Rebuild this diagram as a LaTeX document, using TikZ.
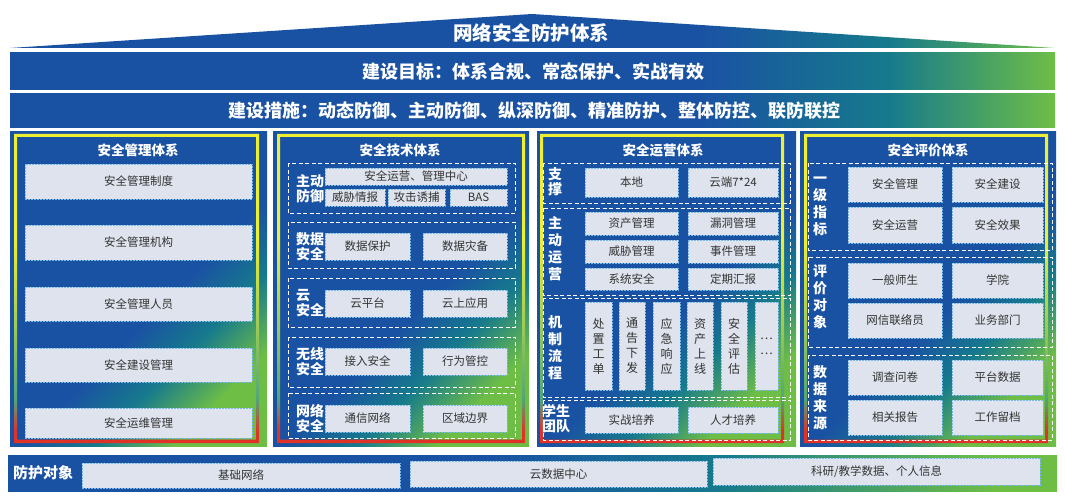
\documentclass[tikz,border=0pt]{standalone}
\usepackage{fontspec}
\setmainfont{Noto Sans CJK SC}
\usetikzlibrary{calc}
\definecolor{netblue}{RGB}{26,82,163}
\definecolor{netteal}{RGB}{22,122,140}
\definecolor{netgreen}{RGB}{110,190,70}
\definecolor{cellgray}{RGB}{222,227,237}
\definecolor{celledge}{RGB}{120,185,230}
\definecolor{ringyellow}{RGB}{238,238,50}
\definecolor{ringgreen}{RGB}{80,165,120}
\definecolor{ringred}{RGB}{225,50,40}

\pgfdeclarehorizontalshading{bandshade}{100bp}{color(0bp)=(netblue); color(58bp)=(netblue); color(67bp)=(netteal); color(75bp)=(netgreen); color(100bp)=(netgreen)}
\pgfdeclarehorizontalshading{barshade}{100bp}{color(0bp)=(netblue); color(48bp)=(netblue); color(59bp)=(netteal); color(72bp)=(netgreen); color(100bp)=(netgreen)}
\pgfdeclarehorizontalshading{colshade}{100bp}{color(0bp)=(netblue); color(55bp)=(netblue); color(64bp)=(netteal); color(74bp)=(netgreen); color(100bp)=(netgreen)}
\pgfdeclareverticalshading{ringshade}{100bp}{color(0bp)=(ringred); color(27bp)=(ringred); color(32bp)=(ringgreen); color(44bp)=(ringgreen!50!ringyellow); color(58bp)=(ringyellow); color(100bp)=(ringyellow)}

\tikzset{
	cell/.style={draw=celledge, dash pattern=on 2pt off 1pt, line width=0.8pt, fill=cellgray, text=black!80, font=\fontsize{11.5}{14}\selectfont, inner sep=0pt, align=center},
	box/.style n args={4}{cell, minimum width={#3-#1}, minimum height={#4-#2}, at={({(#1+#3)/2},{(#2+#4)/2})}},
	grp/.style={draw=white, line width=1pt, dash pattern=on 4pt off 2.5pt},
	lbl/.style={text=white, font=\bfseries\fontsize{14}{15}\selectfont, align=center, inner sep=0pt},
	vlbl/.style={lbl, font=\bfseries\fontsize{14}{17}\selectfont},
	head/.style={text=white, font=\bfseries\fontsize{13.5}{15}\selectfont, inner sep=0pt},
	band/.style={text=white, font=\bfseries\fontsize{18}{20}\selectfont, inner sep=0pt},
}

\begin{document}
\begin{tikzpicture}[x=1pt, y=-1pt]
	\useasboundingbox[fill=white] (0,0) rectangle (1065,500);

	% Draw roof and banners.
	\shade[shading=bandshade] (10,48) -- (532,14) -- (1055,48) -- cycle;
	\node[band, font=\bfseries\fontsize{19.5}{21}\selectfont] (roof) at (531,33) {网络安全防护体系};
	\shade[shading=bandshade] (10,53) rectangle (1055,90);
	\node[band] (goal) at (533,71.5) {建设目标：体系合规、常态保护、实战有效};
	\shade[shading=bandshade] (10,94) rectangle (1055,128);
	\node[band] (measure) at (534,111) {建设措施：动态防御、主动防御、纵深防御、精准防护、整体防控、联防联控};

	% Draw column frames.
	\foreach \xa/\xb/\ra/\rb in {10/267/14/259, 273/529/277/525, 537/796/540/784, 800/1056/804/1048} {
		\shade[shading=colshade, shading angle=-45] (\xa,132) rectangle (\xb,446);
		\shade[shading=ringshade, even odd rule] (\ra,134) rectangle (\rb,443) (\ra+3,137) rectangle (\rb-3,439.5);
	}

	% Column headers.
	\node[head] (mgmt) at (138,150) {安全管理体系};
	\node[head] (tech) at (400,150) {安全技术体系};
	\node[head] (ops) at (663,150) {安全运营体系};
	\node[head] (eval) at (928,150) {安全评价体系};

	% Management column.
	\foreach \t/\ya/\yb [count=\i] in {安全管理制度/164/199, 安全管理机构/225/260, 安全管理人员/287/321, 安全建设管理/348/382, 安全运维管理/408/438} {
		\node[box={25}{\ya}{252}{\yb}] (mgmt\i) {\t};
	}

	% Technology column.
	\foreach \ya/\yb in {163/213, 222/268, 278/327, 337/387, 393/438} {
		\draw[grp] (288,\ya) rectangle (515,\yb);
	}
	\node[lbl] (tech-act) at (310,188.5) {主动\\防御};
	\node[box={325}{168}{507}{185}] (tech-soc) {安全运营、管理中心};
	\node[box={325}{189}{385}{206}] (tech-ti) {威胁情报};
	\node[box={388}{189}{445}{206}] (tech-trap) {攻击诱捕};
	\node[box={450}{189}{507}{206}] (tech-bas) {BAS};
	\foreach \l/\ta/\tb/\ya/\yb [count=\i] in {{数据\\安全}/数据保护/数据灾备/233/260, {云\\安全}/云平台/云上应用/290/317, {无线\\安全}/接入安全/行为管控/348/375, {网络\\安全}/通信网络/区域边界/405/432} {
		\node[lbl, align=left] (tech-l\i) at (310,{(\ya+\yb)/2}) {\l};
		\node[box={325}{\ya}{410}{\yb}] (tech-a\i) {\ta};
		\node[box={423}{\ya}{507}{\yb}] (tech-b\i) {\tb};
	}

	% Operations column.
	\foreach \ya/\yb in {163/203, 208/295, 298/397, 400/440} {
		\draw[grp] (543,\ya) rectangle (790,\yb);
	}
	\node[lbl] (ops-sup) at (555,181.5) {支\\撑};
	\node[vlbl] (ops-act) at (555,248.5) {主\\动\\运\\营};
	\node[vlbl] (ops-flow) at (555,347.5) {机\\制\\流\\程};
	\node[lbl] (ops-team) at (556,419) {学生\\团队};
	\foreach \ta/\tb/\ya/\yb [count=\i] in {本地/云端7*24/168/197, 资产管理/漏洞管理/212/235, 威胁管理/事件管理/240/263, 系统安全/定期汇报/268/290, 实战培养/人才培养/407/433} {
		\node[box={585}{\ya}{678}{\yb}] (ops-a\i) {\ta};
		\node[box={688}{\ya}{778}{\yb}] (ops-b\i) {\tb};
	}
	\foreach \t/\xa/\xb [count=\i] in {{处\\置\\工\\单}/585/612, {通\\告\\下\\发}/619/645, {应\\急\\响\\应}/653/680, {资\\产\\上\\线}/687/713, {安\\全\\评\\估}/721/747, {…\\…}/755/778} {
		\node[box={\xa}{302}{\xb}{390}, font=\fontsize{12}{15}\selectfont] (ops-p\i) {\t};
	}

	% Evaluation column.
	\foreach \ya/\yb in {163/250, 257/347, 355/440} {
		\draw[grp] (808,\ya) rectangle (1052,\yb);
	}
	\node[vlbl] (eval-idx) at (820,206) {一\\级\\指\\标};
	\node[vlbl] (eval-obj) at (820,297) {评\\价\\对\\象};
	\node[vlbl] (eval-src) at (820,398) {数\\据\\来\\源};
	\foreach \ta/\tb/\ya/\yb [count=\i] in {安全管理/安全建设/167/202, 安全运营/安全效果/207/243, 一般师生/学院/263/298, 网信联络员/业务部门/303/338, 调查问卷/平台数据/360/395, 相关报告/工作留档/400/435} {
		\node[box={848}{\ya}{942}{\yb}] (eval-a\i) {\ta};
		\node[box={952}{\ya}{1043}{\yb}] (eval-b\i) {\tb};
	}

	% Draw bottom bar.
	\shade[shading=barshade] (8,455) rectangle (1057,491);
	\node[lbl, font=\bfseries\fontsize{15}{16}\selectfont] (target) at (43,473) {防护对象};
	\node[box={82}{463}{400}{488}] (target-net) {基础网络};
	\node[box={410}{461}{707}{487}] (target-cloud) {云数据中心};
	\node[box={713}{458}{1040}{485}] (target-data) {科研/教学数据、个人信息};

\end{tikzpicture}
\end{document}
